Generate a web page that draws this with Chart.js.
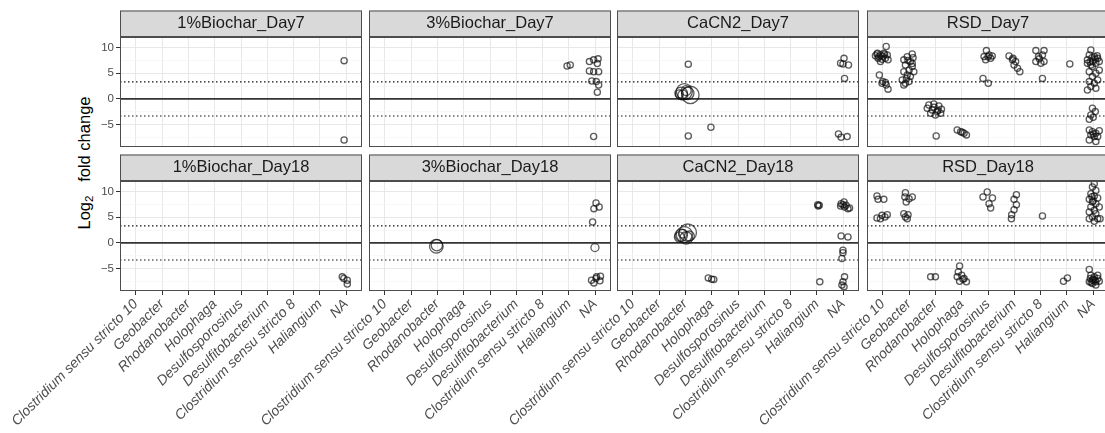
<!DOCTYPE html>
<html>
<head>
<meta charset="utf-8">
<script src="https://cdn.jsdelivr.net/npm/chart.js@4.4.1/dist/chart.umd.min.js"></script>
<style>
  html, body { margin: 0; padding: 0; background: #fff; overflow: hidden; }
  #wrap { position: relative; width: 1105px; height: 433px; overflow: hidden; }
  #wrap canvas { position: absolute; left: 0; top: 0; }
  #ytitle {
    position: absolute; left: -15px; top: 153px; width: 200px; height: 20px;
    line-height: 20px; text-align: center; white-space: nowrap;
    font: 16.5px "Liberation Sans", Arial, sans-serif; color: #000;
    transform: rotate(-90deg);
  }
  #ytitle sub { font-size: 11.5px; vertical-align: -3px; line-height: 0; }
</style>
</head>
<body>
<div id="wrap">
  <div id="ytitle">Log<sub>2</sub>&nbsp;&nbsp; fold change</div>
</div>
<script>
// genera on the x axis (same for every panel)
var genera = ['Clostridium sensu stricto 10', 'Geobacter', 'Rhodanobacter', 'Holophaga',
  'Desulfosporosinus', 'Desulfitobacterium', 'Clostridium sensu stricto 8', 'Haliangium', 'NA'];

var panelNames = [
  ['1%Biochar_Day7', '3%Biochar_Day7', 'CaCN2_Day7', 'RSD_Day7'],
  ['1%Biochar_Day18', '3%Biochar_Day18', 'CaCN2_Day18', 'RSD_Day18']
];

var yTicks = [-7.5, -5, -2.5, 0, 2.5, 5, 7.5, 10];
var yTickLabels = { '-5': '\u22125', '0': '0', '5': '5', '10': '10' };
var thresholds = [-3.32, 3.32];

// points: [genus position (jittered), log2 fold change, relative size]
var biochar1Day7 = [[7.92, 7.45], [7.92, -7.98]];

var biochar3Day7 = [[6.93, 6.4], [7.05, 6.6], [7.78, 7.26], [7.94, 7.6], [8.11, 7.8], [8.08, 6.9],
  [7.78, 5.45], [7.94, 5.3], [8.13, 5.3], [7.87, 3.5], [8.04, 3.37], [8.13, 2.7], [8.08, 1.3], [7.94, -7.3]];

var cacn2Day7 = [[2.11, 6.74], [1.84, 1.1, 2], [1.96, 1.43, 2.6], [2.09, 1.1, 2], [1.9, 0.78, 1.6],
  [2.03, 1.62, 1.6], [2.19, 0.78, 2.8], [1.77, 0.97, 1.3], [2.11, -7.2], [2.97, -5.5],
  [8.03, 7.9], [7.9, 6.94], [7.99, 6.8], [8.2, 6.6], [8.05, 4.0], [7.82, -6.8], [7.92, -7.46], [8.15, -7.33]];

var rsdDay7 = [
  [0.13, 10.2], [-0.22, 8.75], [-0.09, 8.56], [0.04, 8.9], [0.17, 8.56], [-0.18, 7.9], [-0.03, 7.7], [0.1, 7.9],
  [0.2, 7.6], [-0.28, 8.4], [-0.09, 7.26], [-0.13, 4.67], [-0.03, 3.05], [0.13, 2.7], [0.2, 1.9], [0.1, 3.2],
  [0, 3.4], [-0.15, 8.2], [0, 8.3], [0.07, 8.7], [-0.2, 8.9],
  [1.12, 8.75], [0.93, 8.2], [0.8, 7.6], [1.05, 7.26], [0.86, 6.6], [1.12, 6.3], [1.0, 5.6], [0.8, 5.3],
  [1.18, 5.3], [0.93, 4.67], [1.05, 4.35], [0.74, 3.7], [0.86, 3.05], [1.0, 3.37], [0.8, 2.7], [1.12, 6.9],
  [0.96, 7.5], [1.15, 8.0], [0.9, 4.0],
  [1.75, -1.17], [1.94, -0.97], [2.13, -1.36], [1.88, -2.14], [2.07, -2.46], [2.2, -2.79], [1.82, -2.79],
  [2.0, -3.11], [2.23, -2.0], [1.69, -1.8], [2.03, -7.2], [1.95, -1.6], [2.1, -2.2],
  [2.83, -6.03], [2.96, -6.36], [3.09, -6.68], [3.18, -7.0], [3.02, -6.5],
  [3.94, 9.4], [3.85, 8.24], [4.04, 8.56], [4.16, 8.37], [3.91, 7.6], [4.1, 7.9], [3.81, 4.0], [4.01, 3.05], [4.0, 8.2],
  [4.8, 8.37], [4.93, 7.6], [5.05, 7.26], [4.99, 6.6], [5.12, 5.97], [5.21, 5.3], [4.95, 7.9],
  [5.82, 9.4], [6.13, 9.4], [5.92, 8.24], [6.07, 8.56], [5.82, 7.26], [6.01, 6.94], [6.13, 7.26], [6.07, 4.0], [5.95, 7.8],
  [7.11, 6.8],
  [7.91, 9.53], [7.85, 8.56], [8.04, 8.24], [8.17, 7.9], [7.78, 7.6], [7.97, 7.26], [8.1, 6.94], [8.23, 7.26],
  [7.91, 6.6], [7.85, 5.3], [8.1, 5.0], [7.97, 4.35], [8.17, 3.7], [7.85, 3.37], [8.04, 3.05], [7.91, 2.4],
  [8.1, 2.07], [7.78, 1.75], [8.23, 5.6], [7.97, 6.3], [7.78, 6.94], [8.08, 7.7], [7.95, 8.0], [8.15, 8.4], [7.88, 7.2],
  [7.97, -1.82], [8.08, -2.46], [7.91, -3.11], [7.85, -3.96], [8.0, -3.57], [7.85, -6.03], [7.97, -6.36],
  [8.1, -6.68], [7.91, -7.0], [8.04, -7.33], [8.17, -7.33], [7.85, -7.98], [8.1, -8.3], [8.23, -6.2], [8.0, -6.8]
];

var biochar1Day18 = [[7.91, -6.9], [8.04, -7.25], [8.04, -8.0], [7.85, -6.6]];

var biochar3Day18 = [[1.96, -0.65, 2.2], [1.98, -0.45, 1.8], [8.03, 7.77], [7.95, 6.67], [8.15, 7.0], [7.9, 4.08],
  [7.99, -0.9, 1.3], [7.86, -7.25], [8.05, -6.6], [8.2, -6.47], [7.95, -7.77], [8.18, -7.38], [8.03, -6.93]];

var cacn2Day18 = [[1.84, 1.49, 2], [1.96, 1.62, 2.6], [2.09, 2.0, 2.8], [1.77, 1.17, 1.6], [2.03, 0.97, 2],
  [2.15, 1.36, 1.6], [1.9, 1.81, 1.4],
  [2.87, -6.8], [3.0, -7.06], [3.08, -7.12],
  [7.03, 7.44], [7.05, 7.18], [7.09, 7.31], [7.11, -7.57],
  [7.92, 7.64], [8.03, 7.96], [8.11, 7.31], [8.18, 6.67], [8.05, 6.99], [7.99, 7.44], [7.9, 7.18], [8.24, 6.8],
  [7.92, 1.36], [8.18, 1.17], [7.99, -1.42], [7.99, -1.9], [7.95, -3.04],
  [8.05, -6.6], [7.99, -7.57], [7.95, -8.2], [8.03, -8.5]];

var rsdDay18 = [
  [-0.22, 9.13], [-0.18, 8.48], [0.04, 8.48], [-0.22, 4.85], [-0.03, 5.37], [0.17, 5.5], [-0.09, 4.72], [0.08, 5.05],
  [0.86, 9.77], [0.84, 8.93], [1.0, 8.6], [1.12, 8.93], [0.89, 7.96], [0.8, 5.7], [0.96, 5.5], [0.93, 4.72], [0.86, 5.05],
  [1.82, -6.6], [2.0, -6.6],
  [2.92, -4.47], [2.87, -5.63], [3.0, -6.28], [3.09, -6.93], [2.92, -7.44], [3.18, -7.57], [2.83, -6.6], [3.05, -7.06],
  [3.97, 9.9], [3.81, 8.93], [4.17, 8.74], [4.04, 7.64], [4.1, 6.8],
  [5.08, 9.38], [4.99, 8.48], [5.08, 7.44], [4.99, 6.47], [4.9, 5.5], [4.89, 4.72],
  [6.07, 5.24],
  [6.87, -7.44], [7.02, -6.8],
  [8.04, 11.5], [7.97, 10.87], [8.1, 10.2], [7.91, 9.58], [8.04, 9.13], [8.17, 8.74], [7.85, 8.48], [7.97, 7.96],
  [8.1, 7.64], [7.91, 6.99], [8.23, 6.99], [8.04, 6.34], [7.85, 6.02], [8.1, 5.7], [7.97, 5.05], [8.17, 4.72],
  [7.85, 4.72], [8.04, 4.2], [8.26, 4.72], [8.0, 8.2], [7.95, 9.0],
  [7.85, -5.18], [7.91, -6.28], [8.04, -6.6], [8.17, -6.93], [7.97, -7.25], [8.1, -7.57], [7.85, -7.57],
  [8.23, -7.44], [7.97, -7.9], [8.1, -8.2], [7.89, -6.93], [8.17, -6.28], [8.0, -7.0], [8.06, -7.3], [7.92, -7.7]
];

var panelData = [
  [biochar1Day7, biochar3Day7, cacn2Day7, rsdDay7],
  [biochar1Day18, biochar3Day18, cacn2Day18, rsdDay18]
];

// layout of the facet grid
var CW = 1115, CH = 433;
var colLefts = [120, 369, 617, 867];
var panelW = 242;
var stripTops = [10.5, 154.5];
var plotBottoms = [147, 291];
var yAxisW = 40;
var FONT = '"Liberation Sans", Arial, sans-serif';

Chart.defaults.font.family = FONT;

var facetPlugin = {
  id: 'facet',
  beforeDraw: function (chart) {
    var ctx = chart.ctx, t = chart.titleBlock, a = chart.chartArea;
    ctx.save();
    ctx.fillStyle = '#fff';
    ctx.fillRect(a.left, a.top, a.right - a.left, a.bottom - a.top);
    ctx.fillStyle = '#d9d9d9';
    ctx.fillRect(t.left, t.top, t.width, t.height);
    ctx.strokeStyle = '#4d4d4d';
    ctx.lineWidth = 1;
    ctx.strokeRect(t.left + 0.5, t.top + 0.5, t.width - 1, t.height - 1);
    ctx.restore();
  },
  afterDraw: function (chart) {
    var ctx = chart.ctx, a = chart.chartArea;
    ctx.save();
    ctx.strokeStyle = '#4d4d4d';
    ctx.lineWidth = 1;
    ctx.strokeRect(a.left + 0.5, a.top + 0.5, a.right - a.left - 1, a.bottom - a.top - 1);
    ctx.restore();
  }
};

// fix axis boxes to known sizes so every panel lines up
function fixedFit(size) {
  return function (scale) {
    if (scale.isHorizontal()) scale.height = size; else scale.width = size;
    scale.paddingLeft = 0; scale.paddingRight = 0; scale.paddingTop = 0; scale.paddingBottom = 0;
  };
}

function hline(y, color, width, dash) {
  return {
    type: 'scatter', showLine: true, order: 1,
    data: [{ x: -0.6, y: y }, { x: 8.6, y: y }],
    borderColor: color, borderWidth: width, borderDash: dash, pointRadius: 0
  };
}

function makePanel(row, col) {
  var canvas = document.createElement('canvas');
  canvas.width = CW; canvas.height = CH;
  document.getElementById('wrap').appendChild(canvas);
  var pts = panelData[row][col];
  var bottomRow = row === 1, firstCol = col === 0;
  var xH = bottomRow ? CH - plotBottoms[row] : 0;
  var yW = firstCol ? yAxisW : 0;
  var left = colLefts[col];

  new Chart(canvas.getContext('2d'), {
    type: 'scatter',
    data: {
      datasets: [
        {
          order: 0,
          data: pts.map(function (p) { return { x: p[0], y: p[1] }; }),
          pointRadius: pts.map(function (p) { return 3.1 * (p[2] || 1); }),
          pointBackgroundColor: 'rgba(0,0,0,0)',
          pointBorderColor: 'rgba(15,15,15,0.68)',
          pointBorderWidth: 1.3
        },
        hline(0, '#333', 1.7, []),
        hline(thresholds[0], '#111', 1.2, [1.5, 2.5]),
        hline(thresholds[1], '#111', 1.2, [1.5, 2.5])
      ]
    },
    options: {
      responsive: false,
      animation: false,
      events: [],
      layout: {
        padding: {
          left: left - yW,
          right: CW - left - panelW,
          top: stripTops[row],
          bottom: CH - plotBottoms[row] - xH
        }
      },
      plugins: {
        legend: { display: false },
        tooltip: { enabled: false },
        title: {
          display: true,
          fullSize: false,
          text: panelNames[row][col],
          color: '#1a1a1a',
          font: { size: 16.5, weight: 'normal', lineHeight: 1.2 },
          padding: { top: 3.35, bottom: 3.35 }
        }
      },
      scales: {
        x: {
          type: 'linear', min: -0.6, max: 8.6,
          afterBuildTicks: function (s) { s.ticks = genera.map(function (g, i) { return { value: i }; }); },
          afterFit: fixedFit(xH),
          border: { display: false },
          grid: { color: '#e8e8e8', lineWidth: 1, drawTicks: bottomRow, tickLength: 4, tickColor: '#333' },
          ticks: {
            display: bottomRow, autoSkip: false, minRotation: 45, maxRotation: 45, padding: 1,
            color: '#4d4d4d', font: { size: 14, style: 'italic' },
            callback: function (v) { return genera[Math.round(v)]; }
          }
        },
        y: {
          type: 'linear', min: -9.35, max: 12.05,
          afterBuildTicks: function (s) { s.ticks = yTicks.map(function (v) { return { value: v }; }); },
          afterFit: fixedFit(yW),
          border: { display: false },
          grid: {
            color: function (c) { return c.tick && c.tick.value % 5 === 0 ? '#e8e8e8' : '#f3f3f3'; },
            lineWidth: function (c) { return c.tick && c.tick.value % 5 === 0 ? 1 : 0.6; },
            drawTicks: firstCol, tickLength: 4,
            tickColor: function (c) { return c.tick && c.tick.value % 5 === 0 ? '#333' : 'rgba(0,0,0,0)'; }
          },
          ticks: {
            display: firstCol, autoSkip: false, padding: 2, color: '#4d4d4d', font: { size: 11.5 },
            callback: function (v) { return yTickLabels[String(v)] || ''; }
          }
        }
      }
    },
    plugins: [facetPlugin]
  });
}

for (var r = 0; r < 2; r++) {
  for (var c = 0; c < 4; c++) makePanel(r, c);
}
</script>
</body>
</html>
